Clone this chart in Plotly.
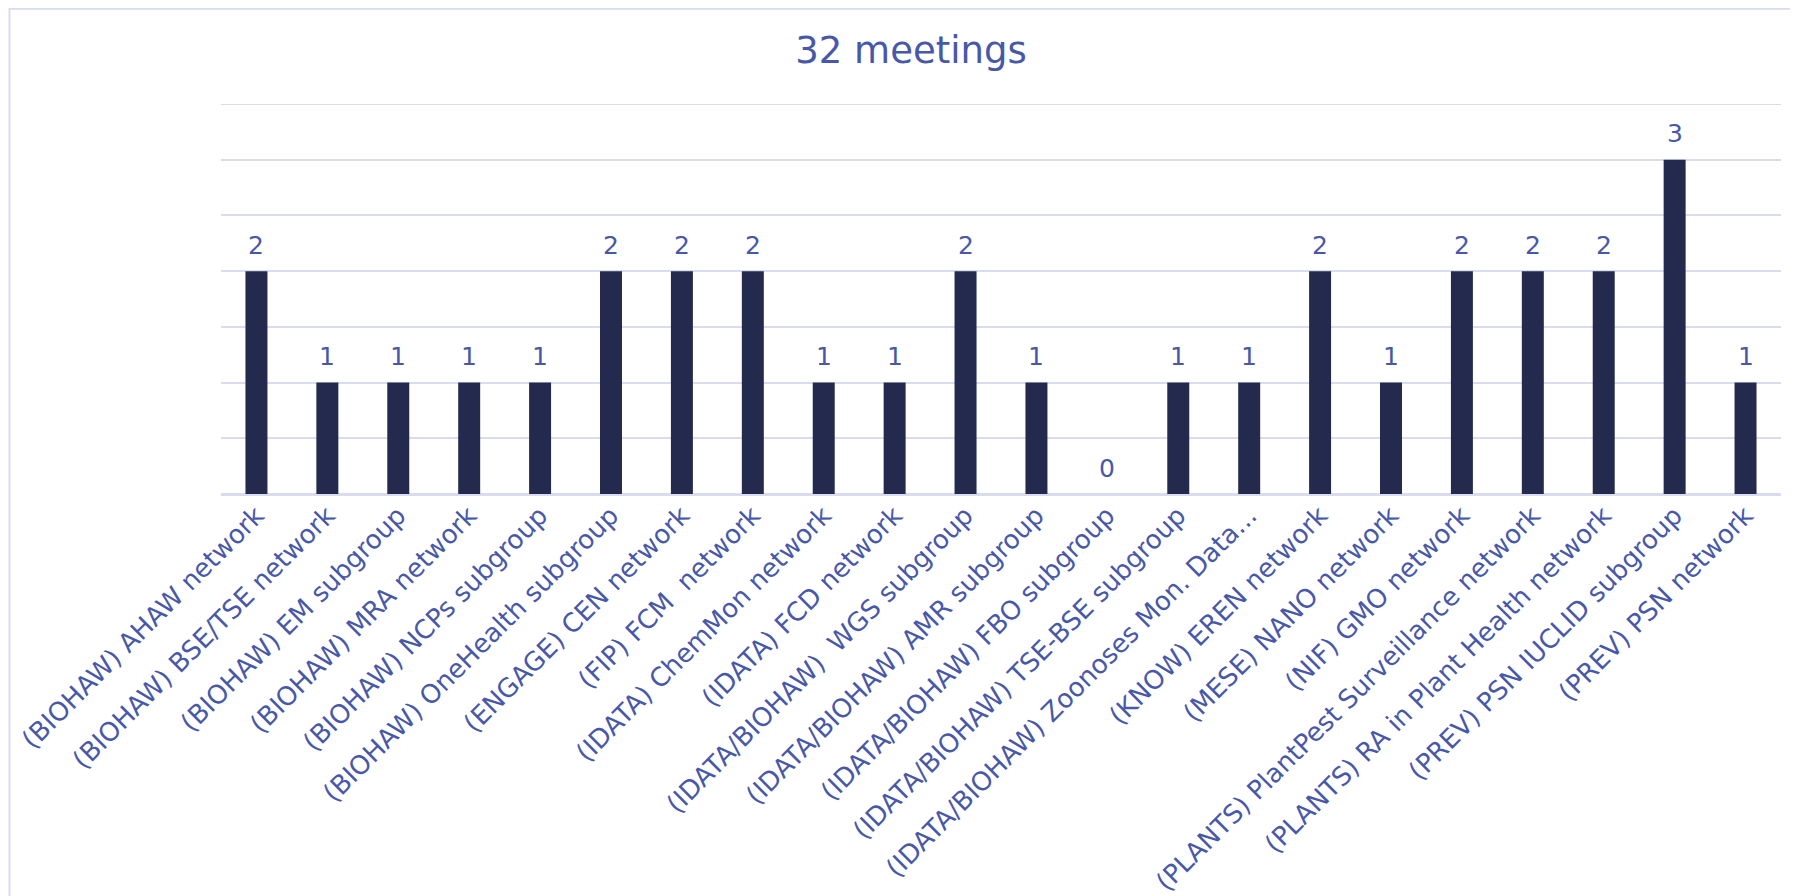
import plotly.graph_objects as go

categories = [
    "(BIOHAW) AHAW network",
    "(BIOHAW) BSE/TSE network",
    "(BIOHAW) EM subgroup",
    "(BIOHAW) MRA network",
    "(BIOHAW) NCPs subgroup",
    "(BIOHAW) OneHealth subgroup",
    "(ENGAGE) CEN network",
    "(FIP) FCM\u00a0 network",
    "(IDATA) ChemMon network",
    "(IDATA) FCD network",
    "(IDATA/BIOHAW)\u00a0 WGS subgroup",
    "(IDATA/BIOHAW) AMR subgroup",
    "(IDATA/BIOHAW) FBO subgroup",
    "(IDATA/BIOHAW) TSE-BSE subgroup",
    "(IDATA/BIOHAW) Zoonoses Mon. Data...",
    "(KNOW) EREN network",
    "(MESE) NANO network",
    "(NIF) GMO network",
    "(PLANTS) PlantPest Surveillance network",
    "(PLANTS) RA in Plant Health network",
    "(PREV) PSN IUCLID subgroup",
    "(PREV) PSN network",
]
meetings = [2, 1, 1, 1, 1, 2, 2, 2, 1, 1, 2, 1, 0, 1, 1, 2, 1, 2, 2, 2, 3, 1]
title_text = "32 meetings"
y_max = 3.5

# page has an 8px body margin, so the figure is sized/positioned to compensate
W, H = 1790, 888
ML, MR, MT, MB = 213, 17, 96, 402
pw = W - ML - MR
ph = H - MT - MB

TXT = "#4858a9"
BAR = "#232a4e"
GRID = "#d9dbef"
FONT = "DejaVu Sans"

fig = go.Figure(
    go.Bar(
        x=categories,
        y=meetings,
        marker=dict(color=BAR, line=dict(width=0)),
        cliponaxis=False,
        hoverinfo="x+y",
    )
)

for c, v in zip(categories, meetings):
    fig.add_annotation(
        x=c, y=v, text=str(v), showarrow=False,
        xref="x", yref="y", yanchor="middle", yshift=26,
        font=dict(family=FONT, size=25, color=TXT),
    )

def px_to_paper_x(px):
    return (px - ML) / pw

def px_to_paper_y(py):
    return (H - MB - py) / ph

# outer chart border
fig.add_shape(
    type="rect", xref="paper", yref="paper",
    x0=px_to_paper_x(1.5), x1=px_to_paper_x(1786.5),
    y0=px_to_paper_y(900), y1=px_to_paper_y(0.8),
    line=dict(color=GRID, width=2), fillcolor="rgba(0,0,0,0)", layer="below",
)
# top gridline at the range maximum (plotly skips the grid at the edge)
fig.add_shape(
    type="line", xref="paper", yref="y", x0=0, x1=1, y0=y_max, y1=y_max,
    line=dict(color=GRID, width=2), layer="below",
)

fig.update_layout(
    width=W, height=H,
    margin=dict(l=ML, r=MR, t=MT, b=MB, autoexpand=False),
    paper_bgcolor="white", plot_bgcolor="white",
    bargap=0.69,
    showlegend=False,
    title=dict(text=title_text, x=903 / W, xanchor="center", y=1 - 42 / H, yanchor="middle",
               font=dict(family=FONT, size=37, color=TXT)),
    font=dict(family=FONT, color=TXT),
)
fig.update_xaxes(
    tickangle=-45, tickfont=dict(family=FONT, size=26, color=TXT),
    ticklabelstandoff=-6,
    showline=True, linecolor=GRID, linewidth=2, ticks="", showgrid=False,
)
fig.update_yaxes(
    range=[0, y_max], tick0=0, dtick=0.5, showticklabels=False, showgrid=True, gridcolor=GRID, gridwidth=2,
    zeroline=True, zerolinecolor=GRID, zerolinewidth=2, showline=False,
)

fig.write_html("out.html")
